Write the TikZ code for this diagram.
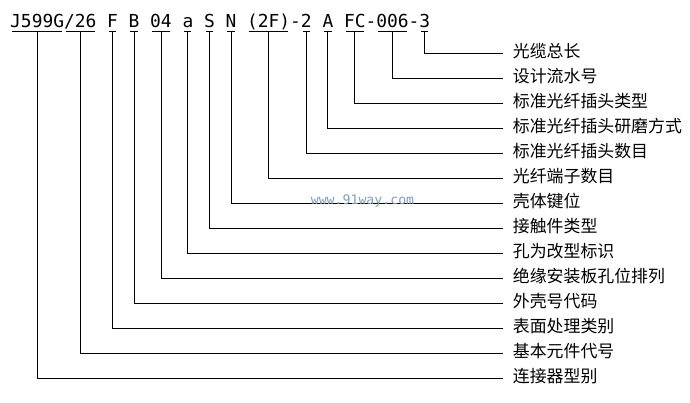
\documentclass[tikz,border=0pt]{standalone}
\usepackage{fontspec}
\newfontfamily\codefont{DejaVu Sans Mono}
\newfontfamily\cjk{Noto Sans CJK SC}
\definecolor{wmcol}{RGB}{128,156,190}
\begin{document}
\begin{tikzpicture}[x=1pt,y=-1pt,
  seg/.style={font=\codefont\fontsize{17.9}{20}\selectfont, inner xsep=0pt, inner ysep=4pt,
              text height=0.75em, text depth=0pt, anchor=base west},
  lab/.style={font=\cjk\fontsize{16.9}{20}\selectfont, inner sep=0pt,
              text height=0.82em, text depth=0.08em, anchor=west},
  uline/.style={line width=0.9pt, shorten <=2pt, shorten >=2pt},
  conn/.style={line width=0.9pt, shorten >=9.3pt}]
\useasboundingbox (0,0) rectangle (690,402);
% code segments (monospaced, char pitch 10.77)
\foreach \nm/\i/\t in {s1/0/J599G, s2/5/{/26}, s3/9/F, s4/11/B, s5/13/04, s6/16/a,
   s7/18/S, s8/20/N, s9/22/(2F), d1/26/-, s10/27/2, s11/29/A, s12/31/FC,
   d2/33/-, s13/34/006, d3/37/-, s14/38/3}
  \node[seg] (\nm) at ({10+10.77*\i},27) {\t};
% labels
\foreach \nm/\k/\t in {l14/0/光缆总长, l13/1/设计流水号, l12/2/标准光纤插头类型,
   l11/3/标准光纤插头研磨方式, l10/4/标准光纤插头数目, l9/5/光纤端子数目,
   l8/6/壳体键位, l7/7/接触件类型, l6/8/孔为改型标识, l5/9/绝缘安装板孔位排列,
   l4/10/外壳号代码, l3/11/表面处理类别, l2/12/基本元件代号, l1/13/连接器型别}
  \node[lab] (\nm) at (512.7,{53.3+25*\k}) {\t};
% underlines and connectors
\foreach \n in {1,...,14} {
  \draw[uline] (s\n.south west) -- (s\n.south east);
  \draw[conn] (s\n.south) |- (l\n.west);
}
% watermark
\node[font=\codefont\fontsize{13.2}{15}\selectfont, text=wmcol, inner sep=0pt] (wm) at (362.5,201) {www.91way.com};
\end{tikzpicture}
\end{document}
